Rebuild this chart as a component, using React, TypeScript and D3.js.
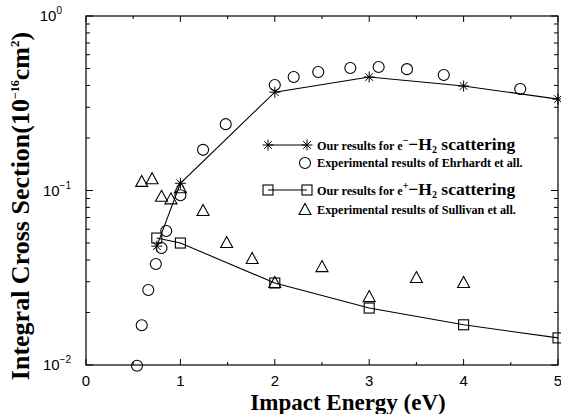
import React from 'react';
import * as d3 from 'd3';

// e- H2, our results (asterisks, joined)
const elecE = [0.75, 1, 2, 3, 4, 5];
const elecCS = [0.048, 0.11, 0.366, 0.447, 0.397, 0.334];

// Ehrhardt et al. (circles)
const ehrE = [0.54, 0.59, 0.66, 0.74, 0.8, 0.85, 1.0, 1.24, 1.48, 2.0, 2.2, 2.46, 2.8, 3.1, 3.4, 3.79, 4.6];
const ehrCS = [0.0099, 0.0169, 0.0269, 0.0379, 0.0468, 0.0586, 0.094, 0.171, 0.24, 0.402, 0.447, 0.478, 0.504, 0.51, 0.496, 0.459, 0.382];

// e+ H2, our results (squares, joined)
const posE = [0.75, 1, 2, 3, 4, 5];
const posCS = [0.0534, 0.05, 0.0295, 0.0212, 0.017, 0.0143];

// Sullivan et al. (triangles)
const sulE = [0.59, 0.7, 0.8, 0.9, 1.0, 1.24, 1.49, 1.76, 2.0, 2.5, 3.0, 3.5, 4.0];
const sulCS = [0.112, 0.116, 0.092, 0.089, 0.103, 0.0763, 0.05, 0.0405, 0.0295, 0.0364, 0.0245, 0.0315, 0.0295];

const xTicks = [0, 1, 2, 3, 4, 5];
const yExps = [-2, -1, 0];

const W = 561;
const H = 414;
const m = { left: 86, right: 558, top: 16, bottom: 365 };

const serif = '"Liberation Serif", "Times New Roman", serif';
const sans = '"Liberation Sans", Arial, sans-serif';

const Asterisk = ({ x, y }: { x: number; y: number }) => {
  const r = 5.5;
  const d = r * 0.7;
  return (
    <g stroke="#000" strokeWidth={1}>
      <line x1={x} y1={y - r} x2={x} y2={y + r} />
      <line x1={x - r} y1={y} x2={x + r} y2={y} />
      <line x1={x - d} y1={y - d} x2={x + d} y2={y + d} />
      <line x1={x - d} y1={y + d} x2={x + d} y2={y - d} />
    </g>
  );
};

const Circle = ({ x, y }: { x: number; y: number }) => (
  <circle cx={x} cy={y} r={5.5} fill="none" stroke="#000" strokeWidth={1.1} />
);

const Square = ({ x, y }: { x: number; y: number }) => (
  <rect x={x - 5} y={y - 5} width={10} height={10} fill="none" stroke="#000" strokeWidth={1.1} />
);

const Triangle = ({ x, y }: { x: number; y: number }) => (
  <path d={`M${x},${y - 6.5}L${x + 6},${y + 4.5}L${x - 6},${y + 4.5}Z`} fill="none" stroke="#000" strokeWidth={1.1} />
);

export default function App() {
  const x = d3.scaleLinear().domain([0, 5]).range([m.left, m.right]);
  const y = d3.scaleLog().domain([0.01, 1]).range([m.bottom, m.top]);

  const line = d3.line<[number, number]>()
    .x(d => x(d[0]))
    .y(d => y(d[1]));

  const elec = elecE.map((e, i) => [e, elecCS[i]] as [number, number]);
  const ehr = ehrE.map((e, i) => [e, ehrCS[i]] as [number, number]);
  const pos = posE.map((e, i) => [e, posCS[i]] as [number, number]);
  const sul = sulE.map((e, i) => [e, sulCS[i]] as [number, number]);

  const xMinor = d3.range(0.5, 5, 1);
  const yMinor: number[] = [];
  [0.01, 0.1].forEach(b => { for (let k = 2; k <= 9; k++) yMinor.push(b * k); });

  // legend
  const lgX1 = 268;
  const lgX2 = 307;
  const lgText = 317;
  const rows = [145, 163, 190, 210];

  return (
    <svg width={W} height={H} style={{ position: 'absolute', left: 0, top: 0, background: '#fff' }}>
      <rect width={W} height={H} fill="#fff" />

      {/* frame */}
      <rect x={m.left} y={m.top} width={m.right - m.left} height={m.bottom - m.top} fill="none" stroke="#000" strokeWidth={1.2} />

      {/* x ticks */}
      {xTicks.map(t => (
        <g key={`xt${t}`} stroke="#000" strokeWidth={1}>
          <line x1={x(t)} x2={x(t)} y1={m.bottom} y2={m.bottom - 6} />
          <line x1={x(t)} x2={x(t)} y1={m.top} y2={m.top + 6} />
        </g>
      ))}
      {xMinor.map(t => (
        <g key={`xm${t}`} stroke="#000" strokeWidth={1}>
          <line x1={x(t)} x2={x(t)} y1={m.bottom} y2={m.bottom - 3} />
          <line x1={x(t)} x2={x(t)} y1={m.top} y2={m.top + 3} />
        </g>
      ))}
      {xTicks.map(t => (
        <text key={`xl${t}`} x={x(t)} y={386} textAnchor="middle" fontFamily={sans} fontSize={15}>{t}</text>
      ))}

      {/* y ticks */}
      {yExps.map(e => (
        <g key={`yt${e}`} stroke="#000" strokeWidth={1}>
          <line x1={m.left} x2={m.left + 7} y1={y(10 ** e)} y2={y(10 ** e)} />
          <line x1={m.right} x2={m.right - 7} y1={y(10 ** e)} y2={y(10 ** e)} />
        </g>
      ))}
      {yMinor.map(v => (
        <g key={`ym${v}`} stroke="#000" strokeWidth={1}>
          <line x1={m.left} x2={m.left + 4} y1={y(v)} y2={y(v)} />
          <line x1={m.right} x2={m.right - 4} y1={y(v)} y2={y(v)} />
        </g>
      ))}
      {yExps.map(e => (
        <text key={`yl${e}`} x={e === 0 ? 62 : 71} y={y(10 ** e) + 5} textAnchor="end" fontFamily={sans} fontSize={15}>
          10<tspan dy={-7} fontSize={10}>{e === 0 ? '0' : `\u2212${-e}`}</tspan>
        </text>
      ))}

      {/* series */}
      <path d={line(elec) || ''} fill="none" stroke="#000" strokeWidth={1.1} />
      <path d={line(pos) || ''} fill="none" stroke="#000" strokeWidth={1.1} />
      {ehr.map((d, i) => <Circle key={`c${i}`} x={x(d[0])} y={y(d[1])} />)}
      {sul.map((d, i) => <Triangle key={`t${i}`} x={x(d[0])} y={y(d[1])} />)}
      {pos.map((d, i) => <Square key={`s${i}`} x={x(d[0])} y={y(d[1])} />)}
      {elec.map((d, i) => <Asterisk key={`a${i}`} x={x(d[0])} y={y(d[1])} />)}

      {/* legend */}
      <line x1={lgX1} x2={lgX2} y1={rows[0]} y2={rows[0]} stroke="#000" strokeWidth={1.1} />
      <Asterisk x={lgX1} y={rows[0]} />
      <Asterisk x={lgX2} y={rows[0]} />
      <Circle x={305} y={rows[1]} />
      <line x1={lgX1} x2={lgX2} y1={rows[2]} y2={rows[2]} stroke="#000" strokeWidth={1.1} />
      <Square x={lgX1} y={rows[2]} />
      <Square x={lgX2} y={rows[2]} />
      <Triangle x={305} y={rows[3]} />

      <text x={lgText} y={rows[0] + 5} fontFamily={serif} fontWeight="bold" fontSize={12.2}>
        Our results for e<tspan dy={-6} fontSize={10}>{'\u2212'}</tspan>
        <tspan dy={6} fontSize={17.5}>{'\u2212'}H</tspan>
        <tspan dy={3} fontSize={10}>2</tspan>
        <tspan dy={-3} fontSize={17.5}> scattering</tspan>
      </text>
      <text x={lgText} y={rows[1] + 4} fontFamily={serif} fontWeight="bold" fontSize={12.2}>
        Experimental results of Ehrhardt et all.
      </text>
      <text x={lgText} y={rows[2] + 5} fontFamily={serif} fontWeight="bold" fontSize={12.2}>
        Our results for e<tspan dy={-6} fontSize={10}>+</tspan>
        <tspan dy={6} fontSize={17.5}>{'\u2212'}H</tspan>
        <tspan dy={3} fontSize={10}>2</tspan>
        <tspan dy={-3} fontSize={17.5}> scattering</tspan>
      </text>
      <text x={lgText} y={rows[3] + 4} fontFamily={serif} fontWeight="bold" fontSize={12.2}>
        Experimental results of Sullivan et all.
      </text>

      {/* axis titles */}
      <text x={348} y={410} textAnchor="middle" fontFamily={serif} fontWeight="bold" fontSize={23}>
        Impact Energy (eV)
      </text>
      <text transform="translate(29,206) rotate(-90)" textAnchor="middle" fontFamily={serif} fontWeight="bold" fontSize={26}>
        Integral Cross Section(10<tspan dy={-10} fontSize={12}>{'\u221216'}</tspan>
        <tspan dy={10}>cm</tspan>
        <tspan dy={-10} fontSize={13}>2</tspan>
        <tspan dy={10}>)</tspan>
      </text>
    </svg>
  );
}
